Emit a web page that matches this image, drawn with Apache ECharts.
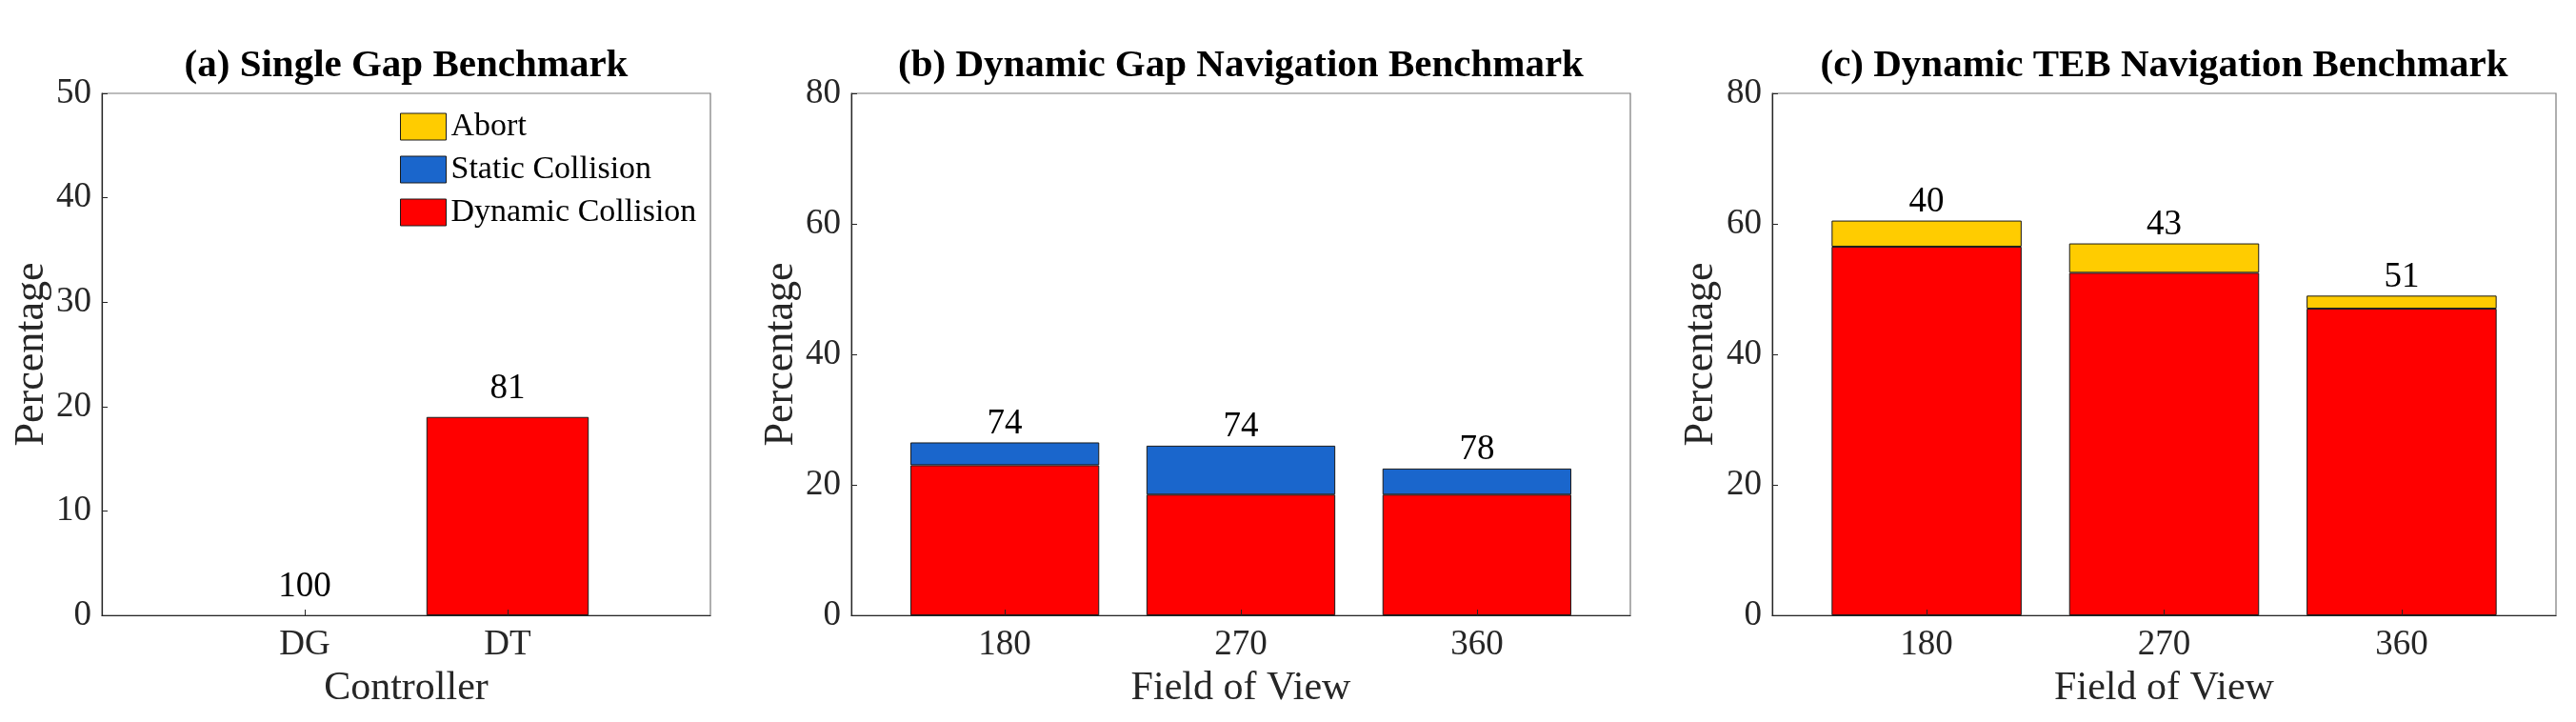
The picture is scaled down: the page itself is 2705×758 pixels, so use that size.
<!DOCTYPE html>
<html>
<head>
<meta charset="utf-8">
<script src="https://cdn.jsdelivr.net/npm/echarts@6/dist/echarts.min.js"></script>
<style>html,body{margin:0;padding:0;background:#fff}#c{width:2705px;height:758px}</style>
</head>
<body>
<div id="c"></div>
<script>
// ---- data ----
const seriesNames = ['Abort', 'Static Collision', 'Dynamic Collision'];
const titles = ['(a) Single Gap Benchmark', '(b) Dynamic Gap Navigation Benchmark', '(c) Dynamic TEB Navigation Benchmark'];
const xNames = ['Controller', 'Field of View', 'Field of View'];
const catsA = ['DG', 'DT'];
const dynA = [0, 19];
const staticA = [0, 0];
const abortA = [0, 0];
const successA = [100, 81];
const catsB = ['180', '270', '360'];
const dynB = [23, 18.5, 18.5];
const staticB = [3.5, 7.5, 4];
const abortB = [0, 0, 0];
const successB = [74, 74, 78];
const catsC = ['180', '270', '360'];
const dynC = [56.5, 52.5, 47];
const staticC = [0, 0, 0];
const abortC = [4, 4.5, 2];
const successC = [40, 43, 51];
const yTicksA = [0, 10, 20, 30, 40, 50];
const yTicksBC = [0, 20, 40, 60, 80];

// ---- layout ----
const FONT = '"Liberation Serif", "Times New Roman", serif';
const colors = {'Abort': '#FFCC00', 'Static Collision': '#1A66CC', 'Dynamic Collision': '#FF0000'};
const panels = [
  {grid: {left: 107, top: 98, width: 639, height: 548}, xmin: 0, xmax: 3, cats: catsA,
   dyn: dynA, st: staticA, ab: abortA, succ: successA, yt: yTicksA, nameGap: 52, labDist: 11},
  {grid: {left: 894, top: 98, width: 818, height: 548}, xmin: 0.35, xmax: 3.65, cats: catsB,
   dyn: dynB, st: staticB, ab: abortB, succ: successB, yt: yTicksBC, nameGap: 50, labDist: 1},
  {grid: {left: 1861, top: 98, width: 823, height: 548}, xmin: 0.35, xmax: 3.65, cats: catsC,
   dyn: dynC, st: staticC, ab: abortC, succ: successC, yt: yTicksBC, nameGap: 53, labDist: 1}
];

const grid = [], xAxis = [], yAxis = [], series = [], title = [];
panels.forEach((p, i) => {
  grid.push(Object.assign({show: true, borderColor: '#7a7a7a', borderWidth: 1.2, backgroundColor: '#fff'}, p.grid));
  title.push({text: titles[i], left: p.grid.left + p.grid.width / 2, top: 49, textAlign: 'center', padding: 0,
    textStyle: {fontFamily: FONT, fontWeight: 'bold', fontSize: 41, color: '#000'}});
  const pos = p.cats.map((c, k) => k + 1);
  xAxis.push({type: 'value', gridIndex: i, min: p.xmin, max: p.xmax, z: 5,
    name: xNames[i], nameLocation: 'middle', nameGap: 56,
    nameTextStyle: {fontFamily: FONT, fontSize: 42, color: '#262626'},
    axisLine: {show: true, lineStyle: {color: '#262626', width: 1.2}},
    axisTick: {show: true, inside: true, length: 6, customValues: pos, lineStyle: {color: '#262626'}},
    axisLabel: {customValues: pos, margin: 13, fontFamily: FONT, fontSize: 37, color: '#262626',
      formatter: v => p.cats[Math.round(v) - 1] || ''},
    splitLine: {show: false}});
  const yMax = p.yt[p.yt.length - 1];
  yAxis.push({type: 'value', gridIndex: i, min: 0, max: yMax, interval: p.yt[1] - p.yt[0], z: 5,
    name: 'Percentage', nameLocation: 'middle', nameGap: p.nameGap,
    nameTextStyle: {fontFamily: FONT, fontSize: 44, color: '#262626'},
    axisLine: {show: true, lineStyle: {color: '#262626', width: 1.2}},
    axisTick: {show: true, inside: true, length: 6, lineStyle: {color: '#262626'}},
    axisLabel: {margin: 11, fontFamily: FONT, fontSize: 37, color: '#262626'},
    splitLine: {show: false}});
  const bw = 0.8 * p.grid.width / (p.xmax - p.xmin);
  const vals = {'Dynamic Collision': p.dyn, 'Static Collision': p.st, 'Abort': p.ab};
  ['Dynamic Collision', 'Static Collision', 'Abort'].forEach(name => {
    const s = {type: 'bar', name: name, xAxisIndex: i, yAxisIndex: i, stack: 'p' + i,
      barWidth: bw,
      dimensions: [{name: 'pct', type: 'float'}, {name: 'pos', type: 'float'}],
      encode: {x: 'pos', y: 'pct'},
      data: vals[name].map((v, k) => ({value: [v, pos[k]], itemStyle: v === 0 ? {borderWidth: 0} : undefined})),
      itemStyle: {color: colors[name], borderColor: '#1a1a1a', borderWidth: 1},
      emphasis: {disabled: true}, animation: false};
    if (name === 'Abort') {
      s.label = {show: true, position: 'top', distance: p.labDist, fontFamily: FONT, fontSize: 37, color: '#000',
        formatter: prm => String(p.succ[prm.dataIndex])};
    }
    series.push(s);
  });
});

const chart = echarts.init(document.getElementById('c'), null, {renderer: 'canvas'});
chart.setOption({
  animation: false,
  backgroundColor: '#fff',
  title: title,
  grid: grid,
  xAxis: xAxis,
  yAxis: yAxis,
  legend: {data: seriesNames, orient: 'vertical', left: 420, top: 116, padding: 0,
    itemWidth: 48, itemHeight: 28, itemGap: 11, icon: 'rect', selectedMode: false,
    itemStyle: {borderColor: '#1a1a1a', borderWidth: 1},
    textStyle: {fontFamily: FONT, fontSize: 34, color: '#000'}},
  series: series
});
</script>
</body>
</html>
